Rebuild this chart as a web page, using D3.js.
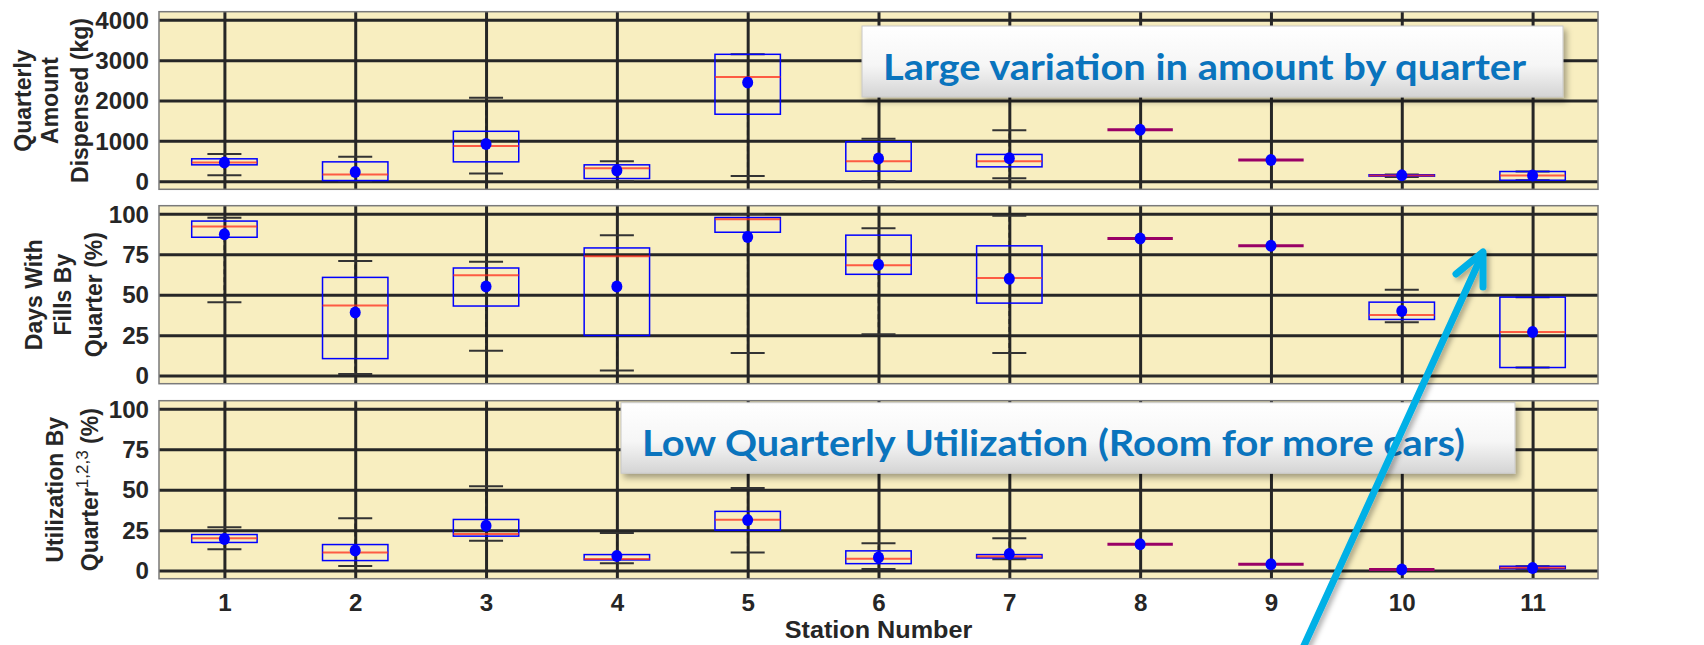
<!DOCTYPE html>
<html><head><meta charset="utf-8">
<script src="https://cdn.jsdelivr.net/npm/d3@7"></script>
<style>
html,body{margin:0;padding:0;background:#fff;}
svg{display:block;}
</style></head>
<body>
<svg id="chart" width="1704" height="645"></svg>
<script>
// ---------------- DATA ----------------
const stations = [1,2,3,4,5,6,7,8,9,10,11];

// Panel 1: Quarterly amount dispensed (kg)
const amountLo   = [150,   0, 192,   0,  132,    0,   75, 1277, 523, 105,  25];
const amountQ1   = [406,  17, 480,  67, 1660,  249,  356, 1277, 523, 125,  25];
const amountMed  = [465, 167, 871, 324, 2580,  498,  498, 1277, 523, 140, 142];
const amountQ3   = [555, 480,1237, 406, 3144,  978,  664, 1277, 523, 160, 241];
const amountHi   = [672, 605,2066, 498, 3144, 1053, 1262, 1277, 523, 165, 241];
const amountMean = [465, 231, 921, 266, 2447,  565,  572, 1277, 523, 145, 142];
const amountTicks = [0,1000,2000,3000,4000];

// Panel 2: Days with fills by quarter (%)
const daysLo   = [45.4,  1.0, 15.3,  3.1, 14.0, 25.6, 14.0, 84.7, 80.2, 32.9,  5.0];
const daysQ1   = [85.5, 10.5, 43.0, 24.8, 88.6, 62.6, 44.8, 84.7, 80.2, 34.7,  5.0];
const daysMed  = [92.1, 43.4, 62.0, 73.8, 96.7, 68.2, 60.3, 84.7, 80.2, 37.4, 27.0];
const daysQ3   = [95.5, 60.7, 66.5, 78.9, 97.7, 86.8, 80.2, 84.7, 80.2, 45.4, 48.5];
const daysHi   = [97.5, 70.9, 70.4, 86.8, 99.8, 91.1, 98.8, 84.7, 80.2, 53.1, 48.5];
const daysMean = [87.4, 39.0, 55.0, 55.0, 85.7, 68.5, 59.8, 84.7, 80.2, 39.9, 27.0];

// Panel 3: Utilization by quarter (%)
const utilLo   = [13.2,  2.9, 18.4, 4.5, 11.2,  1.0,  7.0, 16.3, 3.9, 0.7, 1.2];
const utilQ1   = [17.4,  6.2, 21.3, 6.6, 25.0,  4.3,  7.8, 16.3, 3.9, 0.7, 1.2];
const utilMed  = [20.0, 11.2, 22.7, 7.2, 31.4,  7.4,  8.7, 16.3, 3.9, 0.7, 1.8];
const utilQ3   = [22.3, 16.1, 31.6, 9.9, 36.6, 12.2,  9.9, 16.3, 3.9, 0.7, 2.7];
const utilHi   = [26.8, 32.4, 52.1,23.3, 51.0, 16.9, 20.0, 16.3, 3.9, 0.7, 2.7];
const utilMean = [19.6, 12.4, 27.7, 9.1, 31.2,  8.1, 10.3, 16.3, 3.9, 0.7, 1.6];
const pctTicks = [0,25,50,75,100];

const xTitle = "Station Number";
const note1 = "Large variation in amount by quarter";
const note2 = "Low Quarterly Utilization (Room for more cars)";

// ---------------- LAYOUT ----------------
const svg = d3.select("#chart");
const X0 = 159, X1 = 1598;
const x = d3.scaleLinear().domain([0.5, 11.5]).range([X0, X1]);
const FONT = "'Liberation Sans', Arial, Helvetica, sans-serif";
const SX = 1.05; // horizontal stretch of tick text

const defs = svg.append("defs");
const grad = defs.append("linearGradient").attr("id","boxgrad").attr("x1",0).attr("y1",0).attr("x2",0).attr("y2",1);
grad.append("stop").attr("offset","0%").attr("stop-color","#ffffff");
grad.append("stop").attr("offset","55%").attr("stop-color","#f6f6f6");
grad.append("stop").attr("offset","100%").attr("stop-color","#d4d4d4");
const sh = defs.append("filter").attr("id","shadow").attr("x","-10%").attr("y","-20%").attr("width","125%").attr("height","150%");
sh.append("feDropShadow").attr("dx",3).attr("dy",4).attr("stdDeviation",3).attr("flood-color","#000").attr("flood-opacity",0.35);
const ash = defs.append("filter").attr("id","ashadow").attr("x","-50%").attr("y","-10%").attr("width","200%").attr("height","120%");
ash.append("feDropShadow").attr("dx",3).attr("dy",3).attr("stdDeviation",2.5).attr("flood-color","#000").attr("flood-opacity",0.3);

const panels = [
  {top:11.7, bottom:189.3, domain:[-200,4200], ticks:amountTicks,
   lo:amountLo,q1:amountQ1,med:amountMed,q3:amountQ3,hi:amountHi,mean:amountMean,
   label:[["Quarterly"],["Amount"],["Dispensed (kg)"]], labelX:[31,58,88]},
  {top:205.7, bottom:383.7, domain:[-5,105], ticks:pctTicks,
   lo:daysLo,q1:daysQ1,med:daysMed,q3:daysQ3,hi:daysHi,mean:daysMean,
   label:[["Days With"],["Fills By"],["Quarter (%)"]], labelX:[42,71,101.5]},
  {top:400.7, bottom:578.7, domain:[-5,105], ticks:pctTicks,
   lo:utilLo,q1:utilQ1,med:utilMed,q3:utilQ3,hi:utilHi,mean:utilMean,
   label:[["Utilization By"],["Quarter","1,2,3"," (%)"]], labelX:[63,97.5]}
];

const boxW = 0.5, capW = 0.26;

panels.forEach((p, pi) => {
  const y = d3.scaleLinear().domain(p.domain).range([p.bottom, p.top]);
  const g = svg.append("g");
  const H = p.bottom - p.top;
  g.append("rect").attr("x",X0).attr("y",p.top).attr("width",X1-X0).attr("height",H)
    .attr("fill","#f8eec0");

  // horizontal grid + y tick labels
  const ya = d3.axisLeft(y).tickValues(p.ticks).tickSize(-(X1-X0)).tickPadding(10).tickFormat(d3.format("d"));
  const yg = g.append("g").attr("transform",`translate(${X0},0)`).call(ya);
  yg.select(".domain").remove();
  yg.selectAll(".tick line").attr("stroke","#262626").attr("stroke-width",3);
  yg.selectAll(".tick text").attr("font-family",FONT).attr("font-weight","bold")
    .attr("font-size",23).attr("fill","#262626").attr("dy","0.36em")
    .attr("x",-10/SX).attr("transform",`scale(${SX},1)`);

  // vertical grid + x tick labels
  const xa = d3.axisBottom(x).tickValues(stations).tickSize(-H).tickPadding(0)
    .tickFormat(pi === 2 ? d3.format("d") : () => "");
  const xg = g.append("g").attr("transform",`translate(0,${p.bottom})`).call(xa);
  xg.select(".domain").remove();
  xg.selectAll(".tick line").attr("stroke","#262626").attr("stroke-width",3);
  xg.selectAll(".tick text").attr("font-family",FONT).attr("font-weight","bold")
    .attr("font-size",23).attr("fill","#262626").attr("y",24).attr("dy","0.36em")
    .attr("transform",`scale(${SX},1)`);

  g.append("rect").attr("x",X0).attr("y",p.top).attr("width",X1-X0).attr("height",H)
    .attr("fill","none").attr("stroke","#7a7a7a").attr("stroke-width",1.5);

  // boxes
  const bg = g.append("g");
  stations.forEach((s, i) => {
    const cx = x(s);
    const hw = (x(s+boxW/2) - x(s-boxW/2))/2;
    const cw = (x(s+capW/2) - x(s-capW/2))/2;
    const flat = Math.abs(y(p.q1[i]) - y(p.q3[i])) < 0.5;
    // whiskers (dashed)
    bg.append("line").attr("x1",cx).attr("x2",cx).attr("y1",y(p.q3[i])).attr("y2",y(p.hi[i]))
      .attr("stroke","#222").attr("stroke-width",1.5).attr("stroke-dasharray","5,3");
    bg.append("line").attr("x1",cx).attr("x2",cx).attr("y1",y(p.q1[i])).attr("y2",y(p.lo[i]))
      .attr("stroke","#222").attr("stroke-width",1.5).attr("stroke-dasharray","5,3");
    // caps
    if (!flat) {
      [p.hi[i], p.lo[i]].forEach(v => {
        bg.append("line").attr("x1",cx-cw).attr("x2",cx+cw).attr("y1",y(v)).attr("y2",y(v))
          .attr("stroke","#333").attr("stroke-width",2);
      });
    }
    // box
    bg.append("rect").attr("x",cx-hw).attr("width",2*hw)
      .attr("y",y(p.q3[i])).attr("height",Math.max(0,y(p.q1[i])-y(p.q3[i])))
      .attr("fill","none").attr("stroke","#0000ff").attr("stroke-width",1.5);
    // median
    bg.append("line").attr("x1",cx-hw).attr("x2",cx+hw).attr("y1",y(p.med[i])).attr("y2",y(p.med[i]))
      .attr("stroke", flat ? "#990066" : "#ff2a1a").attr("stroke-width", flat ? 3 : 2)
      .attr("stroke-opacity", flat ? 1 : 0.75);
    // mean
    bg.append("ellipse").attr("cx",cx).attr("cy",y(p.mean[i])).attr("rx",5.5).attr("ry",6)
      .attr("fill","#0000ff");
  });

  // y label
  const cy = (p.top + p.bottom)/2;
  p.label.forEach((parts, li) => {
    const t = svg.append("text").attr("transform",`translate(${p.labelX[li]},${cy}) rotate(-90)`)
      .attr("text-anchor","middle").attr("font-family",FONT).attr("font-weight","bold")
      .attr("font-size",23).attr("fill","#262626");
    if (parts.length === 1) t.text(parts[0]);
    else {
      t.append("tspan").text(parts[0]);
      t.append("tspan").attr("font-size",17).attr("font-weight","normal").attr("dy",-10).text(parts[1]);
      t.append("tspan").attr("dy",10).text(parts[2]);
    }
  });
});

// x title
svg.append("text").attr("transform",`translate(${(X0+X1)/2},638) scale(${SX},1)`).attr("text-anchor","middle")
  .attr("font-family",FONT).attr("font-weight","bold").attr("font-size",24).attr("fill","#262626")
  .text(xTitle);

// callout boxes
function callout(bx, by, bw, bh, tx, ty, tl, txt) {
  const g = svg.append("g");
  g.append("rect").attr("x",bx).attr("y",by).attr("width",bw).attr("height",bh)
    .attr("fill","url(#boxgrad)").attr("stroke","#c8c8c8").attr("stroke-width",1)
    .attr("filter","url(#shadow)");
  g.append("text").attr("x",tx).attr("y",ty).attr("font-family","Lato, 'Open Sans', sans-serif")
    .attr("font-weight","bold").attr("font-size",36).attr("fill","#0a74bd")
    .attr("textLength",tl).attr("lengthAdjust","spacingAndGlyphs").text(txt);
}
callout(862, 26, 701, 71, 883, 80, 643, note1);
callout(621, 402.7, 894, 70.6, 642, 455.7, 823, note2);

// arrow
const ag = svg.append("g").attr("filter","url(#ashadow)")
  .attr("stroke","#00b0e6").attr("stroke-width",7).attr("stroke-linecap","round")
  .attr("stroke-linejoin","round").attr("fill","none");
ag.append("path").attr("d","M1302,650 L1482,255");
ag.append("path").attr("d","M1456,274 L1483,252 L1483,287");
</script>
</body></html>
